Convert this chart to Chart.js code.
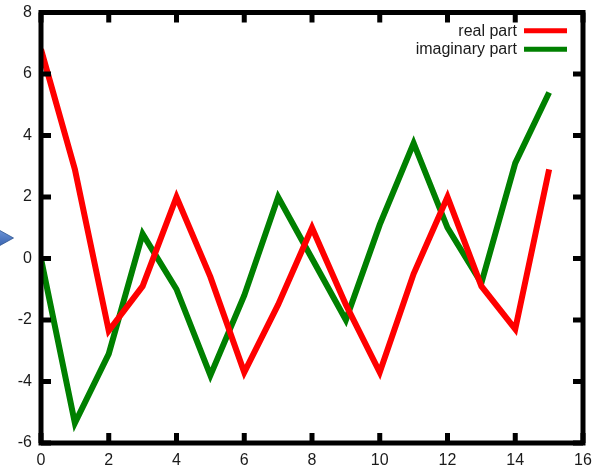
<!DOCTYPE html>
<html>
<head>
<meta charset="utf-8">
<script src="https://cdn.jsdelivr.net/npm/chart.js@4/dist/chart.umd.min.js"></script>
<style>
  html, body { margin: 0; padding: 0; background: #ffffff; }
  #wrap { width: 605px; height: 470px; }
</style>
</head>
<body>
<div id="wrap"><canvas id="c" width="605" height="470"></canvas></div>
<script>
// Sample index and the two components of the signal
const samples = [0, 1, 2, 3, 4, 5, 6, 7, 8, 9, 10, 11, 12, 13, 14, 15];
const realPart = [6.8, 2.9, -2.35, -0.9, 2.0, -0.6, -3.7, -1.5, 1.0, -1.5, -3.7, -0.5, 2.0, -0.9, -2.3, 2.9];
const imagPart = [0.0, -5.35, -3.1, 0.8, -1.0, -3.8, -1.2, 2.0, 0.0, -2.0, 1.1, 3.75, 1.0, -0.8, 3.1, 5.4];
const seriesNames = ['real part', 'imaginary part'];

// Axis ranges and tick spacing
const xTicks = [0, 2, 4, 6, 8, 10, 12, 14, 16];
const yTicks = [-6, -4, -2, 0, 2, 4, 6, 8];

const FONT = '"Liberation Sans", Arial, sans-serif';

// Heavy frame with inward tick marks on all four sides
const framePlugin = {
  id: 'frame',
  afterDatasetsDraw(chart) {
    const { ctx, chartArea: a, scales } = chart;
    const tick = 10;
    ctx.save();
    ctx.strokeStyle = '#000';
    ctx.lineWidth = 5;
    ctx.lineCap = 'butt';
    ctx.beginPath();
    xTicks.forEach(v => {
      const px = scales.x.getPixelForValue(v);
      ctx.moveTo(px, a.bottom); ctx.lineTo(px, a.bottom - tick);
      ctx.moveTo(px, a.top); ctx.lineTo(px, a.top + tick);
    });
    yTicks.forEach(v => {
      const py = scales.y.getPixelForValue(v);
      ctx.moveTo(a.left, py); ctx.lineTo(a.left + tick, py);
      ctx.moveTo(a.right, py); ctx.lineTo(a.right - tick, py);
    });
    ctx.stroke();
    ctx.lineJoin = 'miter';
    ctx.strokeRect(a.left, a.top, a.right - a.left, a.bottom - a.top);
    ctx.restore();
  }
};

// Key in the upper right: right-aligned name followed by a line sample
const keyPlugin = {
  id: 'key',
  afterDraw(chart) {
    const { ctx, chartArea: a } = chart;
    ctx.save();
    ctx.font = '16px ' + FONT;
    ctx.textAlign = 'right';
    ctx.textBaseline = 'middle';
    chart.data.datasets.forEach((ds, i) => {
      const y = a.top + 18.2 + i * 18.6;
      const sx = a.right - 59;
      ctx.fillStyle = '#1a1a1a';
      ctx.fillText(ds.label, sx - 7, y + 0.5);
      ctx.strokeStyle = ds.borderColor;
      ctx.lineWidth = 5;
      ctx.beginPath();
      ctx.moveTo(sx, y);
      ctx.lineTo(sx + 43, y);
      ctx.stroke();
    });
    ctx.restore();
  }
};

// Small pointer arrow at the left edge of the page
const pointerPlugin = {
  id: 'pointer',
  afterDraw(chart) {
    const ctx = chart.ctx;
    ctx.save();
    const g = ctx.createLinearGradient(0, 230, 0, 246);
    g.addColorStop(0, '#6b93d6');
    g.addColorStop(1, '#3a64b0');
    ctx.fillStyle = g;
    ctx.strokeStyle = '#2f558f';
    ctx.lineWidth = 0.8;
    ctx.beginPath();
    ctx.moveTo(-1, 230);
    ctx.lineTo(13.5, 238);
    ctx.lineTo(-1, 246);
    ctx.closePath();
    ctx.fill();
    ctx.stroke();
    ctx.restore();
  }
};

const toPoints = vals => samples.map((x, i) => ({ x: x, y: vals[i] }));

new Chart(document.getElementById('c'), {
  type: 'line',
  data: {
    datasets: [
      {
        label: seriesNames[0],
        data: toPoints(realPart),
        borderColor: '#ff0000',
        borderWidth: 6,
        pointRadius: 0,
        tension: 0,
        borderJoinStyle: 'miter',
        borderCapStyle: 'butt',
        fill: false
      },
      {
        label: seriesNames[1],
        data: toPoints(imagPart),
        borderColor: '#008000',
        borderWidth: 6,
        pointRadius: 0,
        tension: 0,
        borderJoinStyle: 'miter',
        borderCapStyle: 'butt',
        fill: false
      }
    ]
  },
  options: {
    responsive: false,
    animation: false,
    devicePixelRatio: 1,
    layout: { padding: { top: 12.5, right: 22, left: 0, bottom: 0 } },
    plugins: {
      legend: { display: false },
      tooltip: { enabled: false }
    },
    scales: {
      x: {
        type: 'linear',
        min: 0,
        max: 16,
        afterFit(s) {
          s.height = 27;
          s.paddingLeft = 0; s.paddingRight = 0;
          s.paddingTop = 0; s.paddingBottom = 0;
        },
        afterBuildTicks(s) { s.ticks = xTicks.map(v => ({ value: v })); },
        grid: { display: false, drawTicks: false },
        border: { display: false },
        ticks: {
          color: '#1a1a1a',
          font: { family: FONT, size: 16 },
          padding: 8,
          maxRotation: 0,
          autoSkip: false
        }
      },
      y: {
        type: 'linear',
        min: -6,
        max: 8,
        afterFit(s) {
          s.width = 41;
          s.paddingLeft = 0; s.paddingRight = 0;
          s.paddingTop = 0; s.paddingBottom = 0;
        },
        afterBuildTicks(s) { s.ticks = yTicks.map(v => ({ value: v })); },
        grid: { display: false, drawTicks: false },
        border: { display: false },
        ticks: {
          color: '#1a1a1a',
          font: { family: FONT, size: 16 },
          padding: 9,
          autoSkip: false
        }
      }
    }
  },
  plugins: [framePlugin, keyPlugin, pointerPlugin]
});
</script>
</body>
</html>
